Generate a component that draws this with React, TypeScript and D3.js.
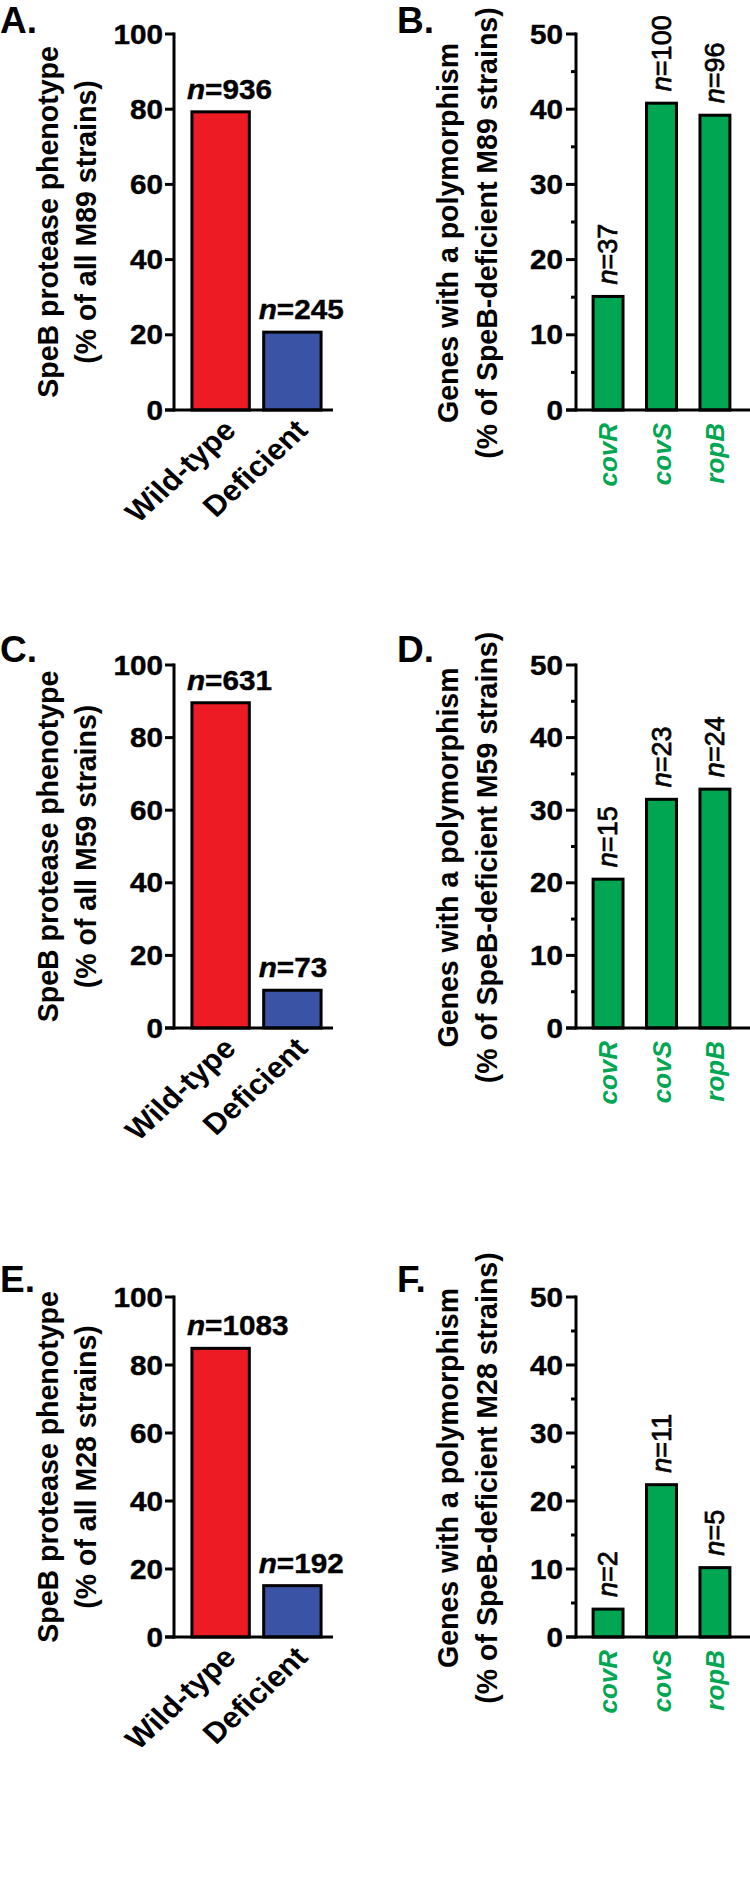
import React from 'react';
import * as d3 from 'd3';

const FONT = "'Liberation Sans', Arial, Helvetica, sans-serif";
const RED = '#ED1C24';
const BLUE = '#3A53A4';
const GREEN = '#00A651';

const phenotypeCategories = ['Wild-type', 'Deficient'];
const phenotypeColors = [RED, BLUE];
const geneCategories = ['covR', 'covS', 'ropB'];
const phenotypeTicks = [0, 20, 40, 60, 80, 100];
const geneMajorTicks = [0, 10, 20, 30, 40, 50];
const geneMinorTicks = [5, 15, 25, 35, 45];

const m89PhenotypePct = [79.3, 20.7];
const m89PhenotypeN = ['936', '245'];
const m59PhenotypePct = [89.6, 10.4];
const m59PhenotypeN = ['631', '73'];
const m28PhenotypePct = [84.9, 15.1];
const m28PhenotypeN = ['1083', '192'];

const m89GenePct = [15.1, 40.8, 39.2];
const m89GeneN = ['37', '100', '96'];
const m59GenePct = [20.5, 31.5, 32.9];
const m59GeneN = ['15', '23', '24'];
const m28GenePct = [4.1, 22.4, 10.2];
const m28GeneN = ['2', '11', '5'];

const leftLetters = ['A.', 'C.', 'E.'];
const rightLetters = ['B.', 'D.', 'F.'];
const serotypes = ['M89', 'M59', 'M28'];

const rows = [
  { top: 34, bottom: 410, letterY: 33 },
  { top: 665, bottom: 1028, letterY: 662 },
  { top: 1297, bottom: 1637, letterY: 1292 },
];

const phenotypeData = [
  { pct: m89PhenotypePct, n: m89PhenotypeN },
  { pct: m59PhenotypePct, n: m59PhenotypeN },
  { pct: m28PhenotypePct, n: m28PhenotypeN },
];
const geneData = [
  { pct: m89GenePct, n: m89GeneN },
  { pct: m59GenePct, n: m59GeneN },
  { pct: m28GenePct, n: m28GeneN },
];

function PhenotypePanel({ row, data, letter, sero }) {
  const { top, bottom, letterY } = row;
  const axisX = 174;
  const x = d3.scaleBand().domain(phenotypeCategories).range([axisX, 339]).paddingInner(0.2).paddingOuter(0.25);
  const y = d3.scaleLinear().domain([0, 100]).range([bottom, top]);
  const mid = (top + bottom) / 2;
  return (
    <g>
      <text x={0} y={letterY} fontSize={37} fontWeight="bold" fontFamily={FONT}>{letter}</text>
      <g transform={`translate(58,${mid}) scale(1.05,1) rotate(-90)`}>
        <text textAnchor="middle" fontSize={28.5} fontWeight="bold" fontFamily={FONT}>SpeB protease phenotype</text>
      </g>
      <g transform={`translate(96,${mid}) scale(1.05,1) rotate(-90)`}>
        <text textAnchor="middle" fontSize={28.5} fontWeight="bold" fontFamily={FONT}>{`(% of all ${sero} strains)`}</text>
      </g>
      {phenotypeCategories.map((c, i) => {
        const v = data.pct[i];
        const bx = x(c);
        const cx = bx + x.bandwidth() / 2;
        return (
          <g key={c}>
            <rect x={bx} y={y(v)} width={x.bandwidth()} height={y(0) - y(v)} fill={phenotypeColors[i]} stroke="#000" strokeWidth={3} />
            <g transform={`translate(${bx - 5},${y(v) - 13}) scale(1.1,1)`}>
              <text fontSize={27} fontWeight="bold" fontFamily={FONT} stroke="#000" strokeWidth={0.4}>
                <tspan fontStyle="italic">n</tspan>{`=${data.n[i]}`}
              </text>
            </g>
            <g transform={`translate(${cx + 17},${bottom + 22}) scale(1.08,1) rotate(-45)`}>
              <text textAnchor="end" fontSize={29} fontWeight="bold" fontFamily={FONT}>{c}</text>
            </g>
          </g>
        );
      })}
      <line x1={axisX} x2={axisX} y1={top - 1.5} y2={bottom + 1.5} stroke="#000" strokeWidth={3} />
      <line x1={165} x2={333} y1={bottom} y2={bottom} stroke="#000" strokeWidth={3} />
      {phenotypeTicks.map((t) => (
        <g key={t}>
          <line x1={165} x2={axisX} y1={y(t)} y2={y(t)} stroke="#000" strokeWidth={3} />
          <g transform={`translate(163,${y(t) + 9.5}) scale(1.1,1)`}>
            <text textAnchor="end" fontSize={27} fontWeight="bold" fontFamily={FONT} stroke="#000" strokeWidth={0.4}>{t}</text>
          </g>
        </g>
      ))}
    </g>
  );
}

function GenePanel({ row, data, letter, sero }) {
  const { top, bottom, letterY } = row;
  const axisX = 576;
  const x = d3.scaleBand().domain(geneCategories).range([axisX, 747]).paddingInner(0.44).paddingOuter(0.32);
  const y = d3.scaleLinear().domain([0, 50]).range([bottom, top]);
  const mid = (top + bottom) / 2 + 11;
  return (
    <g>
      <text x={397} y={letterY} fontSize={37} fontWeight="bold" fontFamily={FONT}>{letter}</text>
      <g transform={`translate(458,${mid}) scale(1.05,1) rotate(-90)`}>
        <text textAnchor="middle" fontSize={28.5} fontWeight="bold" fontFamily={FONT}>Genes with a polymorphism</text>
      </g>
      <g transform={`translate(497,${mid}) scale(1.05,1) rotate(-90)`}>
        <text textAnchor="middle" fontSize={28.5} fontWeight="bold" fontFamily={FONT}>{`(% of SpeB-deficient ${sero} strains)`}</text>
      </g>
      {geneCategories.map((c, i) => {
        const v = data.pct[i];
        const bx = x(c);
        const cx = bx + x.bandwidth() / 2;
        return (
          <g key={c}>
            <rect x={bx} y={y(v)} width={x.bandwidth()} height={y(0) - y(v)} fill={GREEN} stroke="#000" strokeWidth={3} />
            <text transform={`translate(${cx + 9},${y(v) - 12}) rotate(-90)`} fontSize={27} fontFamily={FONT} stroke="#000" strokeWidth={0.7}>
              <tspan fontStyle="italic">n</tspan>{`=${data.n[i]}`}
            </text>
            <text transform={`translate(${cx + 9},${bottom + 13}) rotate(-90)`} textAnchor="end" fontSize={26} fontWeight="bold" fontStyle="italic" fill={GREEN} fontFamily={FONT}>{c}</text>
          </g>
        );
      })}
      <line x1={axisX} x2={axisX} y1={top - 1.5} y2={bottom + 1.5} stroke="#000" strokeWidth={3} />
      <line x1={566} x2={750} y1={bottom} y2={bottom} stroke="#000" strokeWidth={3} />
      {geneMajorTicks.map((t) => (
        <g key={t}>
          <line x1={566} x2={axisX} y1={y(t)} y2={y(t)} stroke="#000" strokeWidth={3} />
          <g transform={`translate(563,${y(t) + 9.5}) scale(1.1,1)`}>
            <text textAnchor="end" fontSize={27} fontWeight="bold" fontFamily={FONT} stroke="#000" strokeWidth={0.4}>{t}</text>
          </g>
        </g>
      ))}
      {geneMinorTicks.map((t) => (
        <line key={t} x1={571} x2={axisX} y1={y(t)} y2={y(t)} stroke="#000" strokeWidth={3} />
      ))}
    </g>
  );
}

export default function App() {
  return (
    <svg width={750} height={1880} style={{ position: 'absolute', left: 0, top: 0, background: '#fff' }}>
      <rect width={750} height={1880} fill="#fff" />
      {rows.map((row, i) => (
        <g key={i}>
          <PhenotypePanel row={row} data={phenotypeData[i]} letter={leftLetters[i]} sero={serotypes[i]} />
          <GenePanel row={row} data={geneData[i]} letter={rightLetters[i]} sero={serotypes[i]} />
        </g>
      ))}
    </svg>
  );
}
